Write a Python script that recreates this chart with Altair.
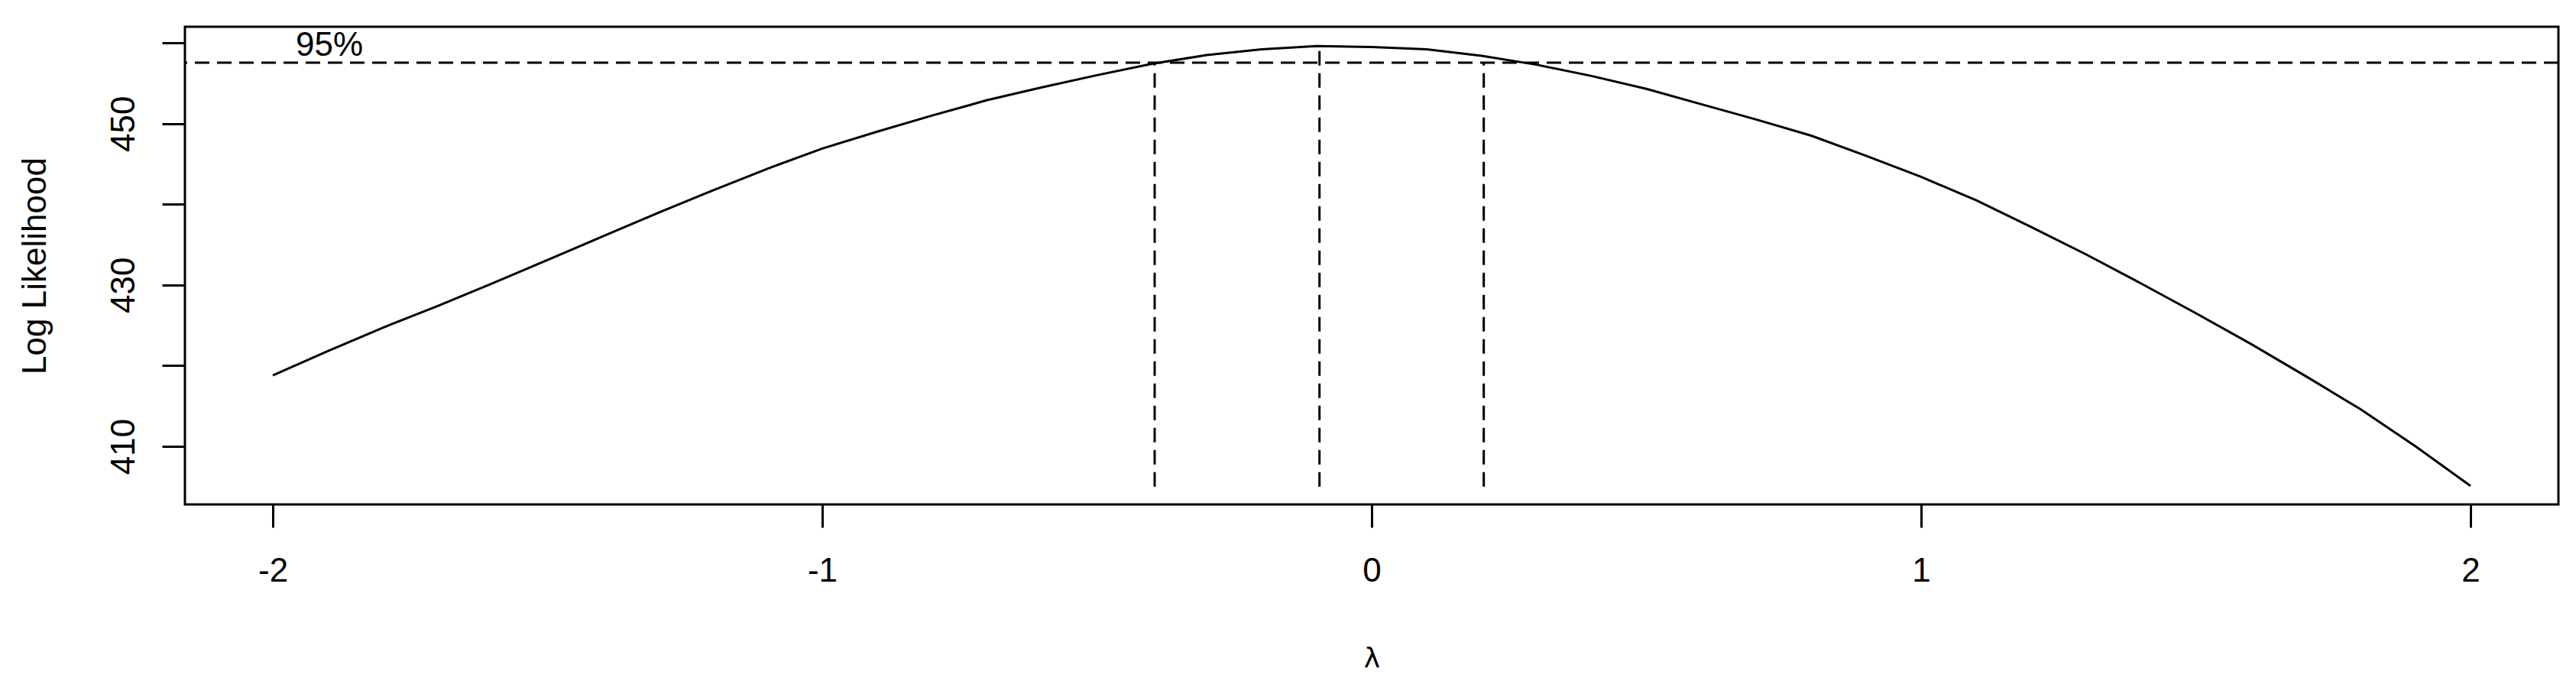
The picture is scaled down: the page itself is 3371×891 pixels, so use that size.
import altair as alt
import pandas as pd

# Box-Cox profile log-likelihood
lambdas = [-2.0, -1.9, -1.8, -1.7, -1.6, -1.5, -1.4, -1.3, -1.2, -1.1,
           -1.0, -0.9, -0.8, -0.7, -0.6, -0.5, -0.4, -0.3, -0.2, -0.1,
           0.0, 0.1, 0.2, 0.3, 0.4, 0.5, 0.6, 0.7, 0.8, 0.9,
           1.0, 1.1, 1.2, 1.3, 1.4, 1.5, 1.6, 1.7, 1.8, 1.9, 2.0]
loglik = [418.8, 421.8, 424.7, 427.4, 430.2, 433.1, 436.0, 438.9, 441.7, 444.4,
          446.9, 449.0, 451.0, 452.9, 454.5, 456.0, 457.4, 458.5, 459.2, 459.6,
          459.5, 459.2, 458.4, 457.3, 455.9, 454.3, 452.4, 450.5, 448.5, 446.0,
          443.4, 440.5, 437.2, 433.8, 430.2, 426.5, 422.7, 418.7, 414.6, 410.0, 405.1]

ci_level = [457.55]                     # 95% cut-off line
vline_x = [-0.395, -0.095, 0.204]       # lower CI, max, upper CI
vline_top = [457.55, 459.6, 457.55]
vline_bottom = [405.0, 405.0, 405.0]
label_text = ["95%"]
label_x = [-1.897]
label_y = [458.4]

x_ticks = [-2, -1, 0, 1, 2]
y_ticks = [410, 420, 430, 440, 450, 460]

FONT = "Liberation Sans"

curve = pd.DataFrame({"lam": lambdas, "ll": loglik})
hline = pd.DataFrame({"lim": ci_level})
vlines = pd.DataFrame({"x": vline_x, "top": vline_top, "bot": vline_bottom})
lab = pd.DataFrame({"t": label_text, "x": label_x, "y": label_y})

xscale = alt.Scale(domain=[-2.16, 2.16], nice=False, zero=False)
yscale = alt.Scale(domain=[402.8, 462.0], nice=False, zero=False)

xaxis = alt.Axis(
    values=x_ticks, labelExpr="'' + datum.value", title="λ",
    grid=False, domain=False, tickSize=30, tickWidth=3, tickColor="black",
    labelFont=FONT, labelFontSize=44, labelColor="black", labelPadding=35,
    labelBaseline="top", labelAngle=0, labelFlush=False, labelOverlap=False,
    titleFont="DejaVu Sans", titleFontSize=36, titleFontWeight="normal",
    titleColor="black", titleX=1553, titleY=212, titleAlign="center",
    titleBaseline="alphabetic",
)
yaxis = alt.Axis(
    values=y_ticks,
    labelExpr="datum.value % 20 == 10 ? '' + datum.value : ''",
    title="Log Likelihood",
    grid=False, domain=False, tickSize=30, tickWidth=3, tickColor="black",
    labelFont=FONT, labelFontSize=44, labelColor="black", labelPadding=37,
    labelAngle=270, labelAlign="center", labelBaseline="alphabetic",
    labelFlush=False, labelOverlap=False,
    titleFont=FONT, titleFontSize=44, titleFontWeight="normal",
    titleColor="black", titleAngle=270, titleX=-183, titleY=312.5,
    titleAlign="center", titleBaseline="alphabetic",
)

line = alt.Chart(curve).mark_line(color="black", strokeWidth=3).encode(
    x=alt.X("lam:Q", scale=xscale, axis=xaxis),
    y=alt.Y("ll:Q", scale=yscale, axis=yaxis),
)

h = alt.Chart(hline).mark_rule(color="black", strokeWidth=3, strokeDash=[19, 10]).encode(
    y=alt.Y("lim:Q", scale=yscale),
)

v = alt.Chart(vlines).mark_rule(color="black", strokeWidth=3, strokeDash=[19, 10]).encode(
    x=alt.X("x:Q", scale=xscale),
    y=alt.Y("bot:Q", scale=yscale),
    y2="top:Q",
)

txt = alt.Chart(lab).mark_text(
    font=FONT, fontSize=44, color="black", align="center", baseline="alphabetic"
).encode(
    x=alt.X("x:Q", scale=xscale),
    y=alt.Y("y:Q", scale=yscale),
    text="t:N",
)

chart = alt.layer(line, h, v, txt).properties(
    width=3106, height=625,
    autosize=alt.AutoSizeParams(type="none"),
    padding={"left": 234, "top": 27, "right": 10, "bottom": 222},
    background="white",
).configure_view(stroke="black", strokeWidth=3)

chart.save("out.html", embed_options={"renderer": "svg", "actions": False})
